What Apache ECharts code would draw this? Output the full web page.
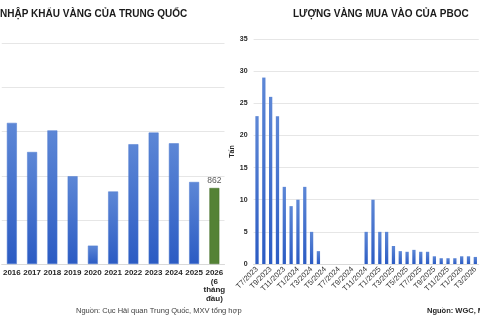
<!DOCTYPE html>
<html>
<head>
<meta charset="utf-8">
<script src="https://cdn.jsdelivr.net/npm/echarts@6/dist/echarts.min.js"></script>
<style>
  html, body { margin: 0; padding: 0; background: #fff; }
  #chart { width: 480px; height: 320px; }
</style>
</head>
<body>
<div id="chart"></div>
<script>
// Nhập khẩu vàng của Trung Quốc (tấn)
const importYears = ['2016', '2017', '2018', '2019', '2020', '2021', '2022', '2023', '2024', '2025', '2026\n(6\ntháng\nđầu)'];
const importValues = [1600, 1270, 1515, 995, 208, 822, 1358, 1490, 1368, 930, 862];
const importTicks = [0, 500, 1000, 1500, 2000, 2500];

// Lượng vàng mua vào của PBOC (tấn)
const pbocMonths = [
  'T7/2023', 'T8/2023', 'T9/2023', 'T10/2023', 'T11/2023', 'T12/2023',
  'T1/2024', 'T2/2024', 'T3/2024', 'T4/2024', 'T5/2024', 'T6/2024',
  'T7/2024', 'T8/2024', 'T9/2024', 'T10/2024', 'T11/2024', 'T12/2024',
  'T1/2025', 'T2/2025', 'T3/2025', 'T4/2025', 'T5/2025', 'T6/2025',
  'T7/2025', 'T8/2025', 'T9/2025', 'T10/2025', 'T11/2025', 'T12/2025',
  'T1/2026', 'T2/2026', 'T3/2026'
];
const pbocValues = [
  23, 29, 26, 23, 12, 9,
  10, 12, 5, 2, 0, 0,
  0, 0, 0, 0, 5, 10,
  5, 5, 2.8, 2, 1.9, 2.2,
  1.9, 1.9, 1.2, 0.9, 0.9, 0.9,
  1.2, 1.2, 1.1
];
const pbocTicks = [0, 5, 10, 15, 20, 25, 30, 35];

const blue = new echarts.graphic.LinearGradient(0, 0, 0, 1, [
  { offset: 0, color: '#5d87d6' },
  { offset: 1, color: '#2b5bc3' }
]);
const green = '#548235';

const chart = echarts.init(document.getElementById('chart'));

const option = {
  animation: false,
  textStyle: { fontFamily: 'Liberation Sans, Arial, sans-serif' },
  title: [
    {
      text: 'NHẬP KHẨU VÀNG CỦA TRUNG QUỐC',
      left: 0, top: 9, padding: 0,
      textStyle: { fontSize: 10, fontWeight: 'bold', color: '#1a1a1a' }
    },
    {
      text: 'LƯỢNG VÀNG MUA VÀO CỦA PBOC',
      left: 293, top: 9, padding: 0,
      textStyle: { fontSize: 10, fontWeight: 'bold', color: '#1a1a1a' }
    }
  ],
  graphic: [
    {
      type: 'text', left: 76, top: 307,
      style: { text: 'Nguồn: Cục Hải quan Trung Quốc, MXV tổng hợp', fontSize: 7.5, fill: '#404040', fontFamily: 'Liberation Sans' }
    },
    {
      type: 'text', left: 427, top: 307,
      style: { text: 'Nguồn: WGC, MXV tổng hợp', fontSize: 7.5, fontWeight: 'bold', fill: '#262626', fontFamily: 'Liberation Sans' }
    }
  ],
  grid: [
    { left: 1, right: 255.5, top: 43.5, bottom: 56 },
    { left: 253.6, right: -16.8, top: 39, bottom: 56 }
  ],
  xAxis: [
    {
      gridIndex: 0,
      type: 'category',
      data: importYears,
      axisTick: { show: false },
      axisLine: { lineStyle: { color: '#d9d9d9' } },
      axisLabel: {
        interval: 0, margin: 5,
        fontSize: 8, fontWeight: 'bold', color: '#262626', lineHeight: 8.5
      }
    },
    {
      gridIndex: 1,
      type: 'category',
      data: pbocMonths,
      axisTick: { show: false },
      axisLine: { lineStyle: { color: '#d9d9d9' } },
      axisLabel: {
        interval: 1, rotate: 45, margin: 4,
        fontSize: 7.5, color: '#333333'
      }
    }
  ],
  yAxis: [
    {
      gridIndex: 0,
      type: 'value',
      min: importTicks[0],
      max: importTicks[importTicks.length - 1],
      interval: importTicks[1] - importTicks[0],
      axisLabel: { show: false },
      splitLine: { lineStyle: { color: '#e6e6e6' } }
    },
    {
      gridIndex: 1,
      type: 'value',
      min: pbocTicks[0],
      max: pbocTicks[pbocTicks.length - 1],
      interval: pbocTicks[1] - pbocTicks[0],
      name: 'Tấn',
      nameLocation: 'middle',
      nameGap: 4,
      nameTextStyle: { fontSize: 7, fontWeight: 'bold', color: '#262626' },
      axisLabel: { fontSize: 7, fontWeight: 'bold', color: '#262626', margin: 6 },
      splitLine: { lineStyle: { color: '#e6e6e6' } }
    }
  ],
  series: [
    {
      type: 'bar',
      xAxisIndex: 0, yAxisIndex: 0,
      barWidth: '49%',
      data: importValues.map((v, i) => {
        const last = i === importValues.length - 1;
        return {
          value: v,
          itemStyle: { color: last ? green : blue, borderColor: last ? '#476f2c' : '#4f7bd0', borderWidth: 0.5 },
          label: last ? { show: true, position: 'top', distance: 3, fontSize: 8.5, color: '#595959' } : { show: false }
        };
      })
    },
    {
      type: 'bar',
      xAxisIndex: 1, yAxisIndex: 1,
      barWidth: '48%',
      itemStyle: { color: blue },
      data: pbocValues
    }
  ]
};

chart.setOption(option);
</script>
</body>
</html>
